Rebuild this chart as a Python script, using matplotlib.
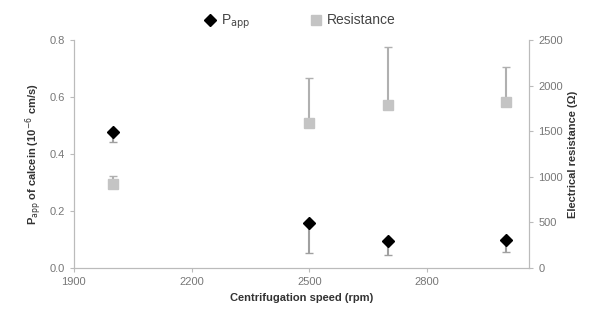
import matplotlib
matplotlib.use('Agg')
import matplotlib.pyplot as plt
from matplotlib.lines import Line2D

speed = [2000, 2500, 2700, 3000]
papp = [0.477, 0.158, 0.095, 0.098]
papp_err = [0.035, 0.105, 0.05, 0.042]
resistance = [920, 1590, 1785, 1820]
resistance_err = [90, 490, 636, 384]

plt.rcParams['font.family'] = ['Liberation Sans', 'DejaVu Sans']
plt.rcParams['font.size'] = 8

fig = plt.figure(figsize=(5.96, 3.23), dpi=100)
ax = fig.add_axes([0.124, 0.170, 0.764, 0.706])
ax2 = ax.twinx()

# resistance on the right axis, error bars upward only
ax2.errorbar(speed, resistance, yerr=[[0] * 4, resistance_err], fmt='s', color='#c4c4c4',
             ecolor='#b0b0b0', elinewidth=1.5, capsize=3, markersize=7)
ax.errorbar(speed, papp, yerr=[papp_err, [0] * 4], fmt='D', color='black',
            ecolor='#a0a0a0', elinewidth=1.5, capsize=3, markersize=6)
ax.set_zorder(ax2.get_zorder() + 1)
ax.patch.set_visible(False)

ax.set_xlim(1900, 3060)
ax.set_ylim(0, 0.8)
ax2.set_ylim(0, 2500)
ax.set_xticks([1900, 2200, 2500, 2800])
ax.set_yticks([0.0, 0.2, 0.4, 0.6, 0.8])
ax.set_yticklabels(['0.0', '0.2', '0.4', '0.6', '0.8'])
ax2.set_yticks([0, 500, 1000, 1500, 2000, 2500])

for a in (ax, ax2):
    for s in a.spines.values():
        s.set_color('#bbbbbb')
    a.spines['top'].set_visible(False)
    a.tick_params(colors='#bbbbbb', labelcolor='#777777', length=3, labelsize=8)

ax.set_xlabel('Centrifugation speed (rpm)', fontweight='bold', color='#333333', fontsize=8)
ax.set_ylabel('P$_{\\mathrm{app}}$ of calcein (10$^{-6}$ cm/s)', fontweight='bold', color='#333333', fontsize=8)
ax2.set_ylabel('Electrical resistance (\u03a9)', fontweight='bold', color='#333333', fontsize=8)

handles = [Line2D([], [], ls='none', marker='D', color='black', markersize=6),
           Line2D([], [], ls='none', marker='s', color='#c4c4c4', markersize=7)]
fig.legend(handles, ['P$_{\\mathrm{app}}$', 'Resistance'], loc='upper center',
           bbox_to_anchor=(0.502, 1.0), ncol=2, frameon=False, fontsize=10,
           handletextpad=0.3, columnspacing=4.2, handlelength=1, labelcolor='#444444')

fig.savefig('out.png', dpi=100)
